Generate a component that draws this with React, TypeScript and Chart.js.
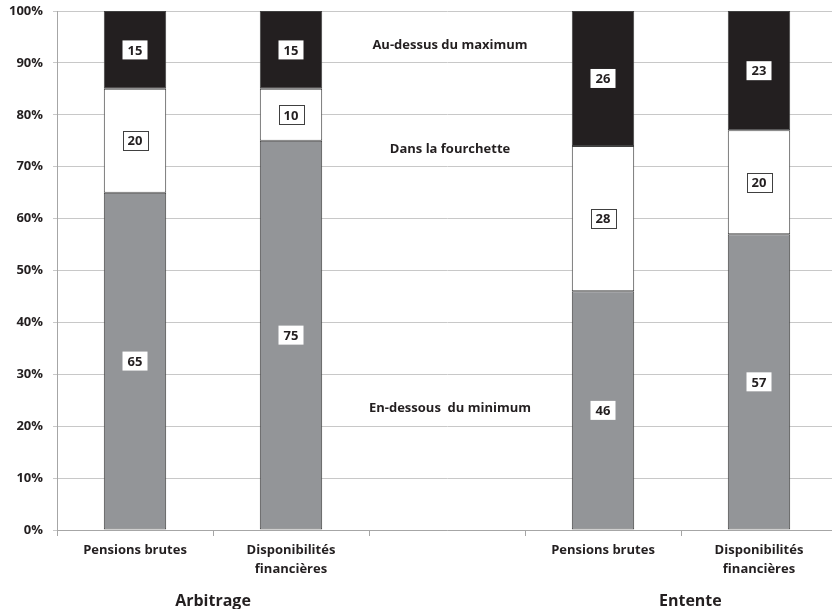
import React, { useEffect, useRef } from "react";
import { Chart, registerables } from "chart.js";

Chart.register(...registerables);

const categories: (string | string[])[] = [
  "Pensions brutes",
  ["Disponibilités", "financières"],
  "",
  "Pensions brutes",
  ["Disponibilités", "financières"],
];
const belowMin: (number | null)[] = [65, 75, null, 46, 57];
const inRange: (number | null)[] = [20, 10, null, 28, 20];
const aboveMax: (number | null)[] = [15, 15, null, 26, 23];
const seriesNames = ["En-dessous  du minimum", "Dans la fourchette", "Au-dessus du maximum"];
const seriesLabelY = [23.5, 73.3, 93.3];
const groups = ["Arbitrage", "Entente"];
const groupCenters = [0.5, 3.56];
const yTicks = [0, 10, 20, 30, 40, 50, 60, 70, 80, 90, 100];

const FONT = "'Open Sans', sans-serif";
const TXT = "#231f20";

const overlayPlugin = {
  id: "overlay",
  afterDatasetsDraw(chart: any) {
    const ctx = chart.ctx;
    const xs = chart.scales.x;
    const ys = chart.scales.y;
    ctx.save();
    chart.data.datasets.forEach((ds: any, di: number) => {
      const meta = chart.getDatasetMeta(di);
      meta.data.forEach((el: any, i: number) => {
        const v = ds.data[i];
        if (v == null) return;
        const { x, y, base } = el.getProps(["x", "y", "base"], true);
        const cy = (y + base) / 2;
        ctx.font = `bold 13px ${FONT}`;
        const w = 25;
        const h = 19;
        ctx.fillStyle = "#ffffff";
        ctx.fillRect(x - w / 2, cy - h / 2, w, h);
        if (di === 1) {
          ctx.strokeStyle = "#404040";
          ctx.lineWidth = 1;
          ctx.strokeRect(Math.round(x - w / 2) + 0.5, Math.round(cy - h / 2) + 0.5, w, h);
        }
        ctx.fillStyle = TXT;
        ctx.textAlign = "center";
        ctx.textBaseline = "middle";
        ctx.fillText(String(v), x, cy + 1);
      });
    });
    ctx.font = `bold 13px ${FONT}`;
    ctx.fillStyle = TXT;
    ctx.textAlign = "center";
    ctx.textBaseline = "middle";
    seriesNames.forEach((n, i) => {
      ctx.fillText(n, xs.getPixelForValue(2) + 3, ys.getPixelForValue(seriesLabelY[i]));
    });
    ctx.font = `bold 16px ${FONT}`;
    groups.forEach((g, i) => {
      ctx.fillText(g, xs.getPixelForValue(groupCenters[i]), chart.height - 8);
    });
    ctx.restore();
  },
};

export default function App() {
  const ref = useRef<HTMLCanvasElement>(null);
  useEffect(() => {
    if (!ref.current) return;
    const border = "#404040";
    const chart = new Chart(ref.current, {
      type: "bar",
      data: {
        labels: categories,
        datasets: [
          {
            label: seriesNames[0],
            data: belowMin,
            backgroundColor: "#939598",
            borderColor: border,
            borderWidth: 1,
            borderSkipped: false,
          },
          {
            label: seriesNames[1],
            data: inRange,
            backgroundColor: "#ffffff",
            borderColor: border,
            borderWidth: 1,
            borderSkipped: false,
          },
          {
            label: seriesNames[2],
            data: aboveMax,
            backgroundColor: "#231f20",
            borderColor: border,
            borderWidth: 1,
            borderSkipped: false,
          },
        ] as any,
      },
      options: {
        animation: false,
        responsive: false,
        maintainAspectRatio: false,
        devicePixelRatio: 1,
        layout: { padding: { top: 11, bottom: 31, left: 0, right: 0 } },
        datasets: { bar: { barPercentage: 0.4, categoryPercentage: 1 } },
        plugins: { legend: { display: false }, tooltip: { enabled: false } },
        scales: {
          x: {
            stacked: true,
            border: { display: true, color: "#a6a6a6" },
            grid: { display: true, drawOnChartArea: false, drawTicks: true, tickLength: 6, color: "#a6a6a6", offset: true },
            ticks: {
              color: TXT,
              font: { family: FONT, size: 13, weight: "bold", lineHeight: 1.45 },
              padding: 5,
              maxRotation: 0,
              autoSkip: false,
            },
            afterFit: (s: any) => {
              s.height = 48;
              s.paddingLeft = 0;
              s.paddingRight = 0;
            },
          },
          y: {
            stacked: true,
            min: 0,
            max: 100,
            afterBuildTicks: (s: any) => {
              s.ticks = yTicks.map((v) => ({ value: v }));
            },
            border: { display: true, color: "#a6a6a6" },
            grid: { color: "#c8c8c8", lineWidth: 1, drawTicks: true, tickLength: 4 },
            ticks: {
              color: TXT,
              font: { family: FONT, size: 13, weight: "bold" },
              padding: 10,
              callback: (v: any) => `${v}%`,
            },
            afterFit: (s: any) => {
              s.width = 57;
              s.paddingTop = 0;
              s.paddingBottom = 0;
            },
          },
        },
      } as any,
      plugins: [overlayPlugin],
    });
    return () => chart.destroy();
  }, []);
  return (
    <div style={{ position: "fixed", left: 0, top: 0, width: 832, height: 609, overflow: "hidden", background: "#fff" }}>
      <canvas ref={ref} width={837} height={609} style={{ width: 837, height: 609, display: "block" }} />
    </div>
  );
}
